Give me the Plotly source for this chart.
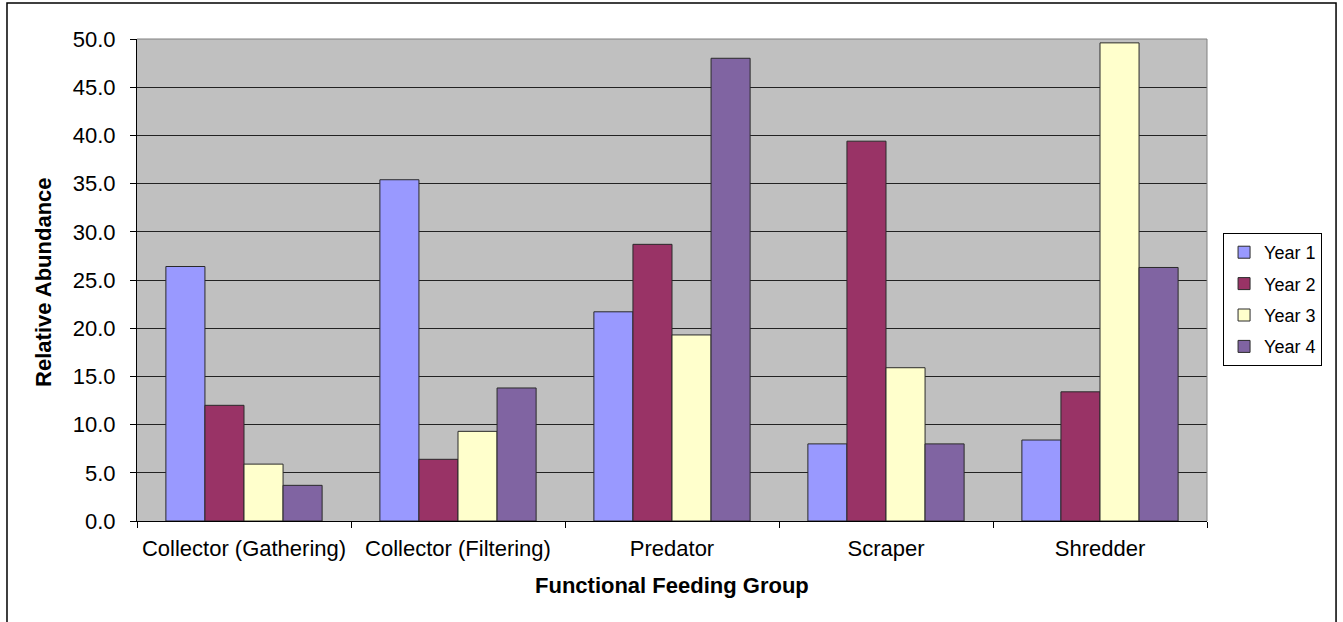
import plotly.graph_objects as go

groups = ["Collector (Gathering)", "Collector (Filtering)", "Predator", "Scraper", "Shredder"]
year1 = [26.4, 35.4, 21.7, 8.0, 8.4]
year2 = [12.0, 6.4, 28.7, 39.4, 13.4]
year3 = [5.9, 9.3, 19.3, 15.9, 49.6]
year4 = [3.7, 13.8, 48.0, 8.0, 26.3]
series_names = ["Year 1", "Year 2", "Year 3", "Year 4"]
series_colors = ["#9999FF", "#993366", "#FFFFCC", "#8064A2"]
y_ticks = [0, 5, 10, 15, 20, 25, 30, 35, 40, 45, 50]

FONT = "Arial, 'Liberation Sans', sans-serif"

fig = go.Figure()
for name, vals, color in zip(series_names, [year1, year2, year3, year4], series_colors):
    fig.add_trace(go.Bar(
        x=groups, y=vals, name=name, legendgroup=name,
        marker=dict(color=color, line=dict(color="#2a2a2a", width=1)),
    ))

fig.update_layout(
    width=1343, height=622,
    margin=dict(l=137, r=136, t=39, b=101),
    paper_bgcolor="white",
    plot_bgcolor="#C0C0C0",
    barmode="group",
    bargap=0.27,
    bargroupgap=0,
    font=dict(family=FONT, color="black"),
    showlegend=True,
    legend=dict(
        x=1.015, y=0.5975, xanchor="left", yanchor="top",
        bgcolor="white", bordercolor="black", borderwidth=1,
        font=dict(family=FONT, size=18, color="black"),
        tracegroupgap=5,
    ),
    xaxis=dict(
        type="category",
        showline=True, linecolor="black", linewidth=1,
        ticks="outside", tickson="boundaries", ticklen=6, tickcolor="black",
        tickfont=dict(family=FONT, size=22, color="black"),
        ticklabelstandoff=8,
        showgrid=False,
    ),
    yaxis=dict(
        range=[0, 50],
        tickvals=y_ticks,
        tickformat=".1f",
        showline=True, linecolor="black", linewidth=1,
        ticks="outside", ticklen=6, tickcolor="black",
        tickfont=dict(family=FONT, size=22, color="black"),
        ticklabelstandoff=10,
        showgrid=True, gridcolor="#222222", gridwidth=1,
        zeroline=False,
    ),
    annotations=[
        dict(text="<b>Functional Feeding Group</b>", xref="paper", yref="paper",
             x=0.5, y=-0.1328, xanchor="center", yanchor="middle", showarrow=False,
             font=dict(family=FONT, size=22, color="black")),
        dict(text="<b>Relative Abundance</b>", xref="paper", yref="paper",
             x=-0.0869, y=0.494, xanchor="center", yanchor="middle", showarrow=False,
             textangle=-90, font=dict(family=FONT, size=22, color="black")),
    ],
    shapes=[
        # gray border on the top and right of the plot area
        dict(type="line", xref="paper", yref="paper", x0=0, x1=1, y0=1, y1=1,
             line=dict(color="#808080", width=1), layer="above"),
        dict(type="line", xref="paper", yref="paper", x0=1, x1=1, y0=0, y1=1,
             line=dict(color="#808080", width=1), layer="above"),
        # outer chart frame
        dict(type="rect", xref="paper", yref="paper", x0=-0.1215, x1=1.1206,
             y0=-0.24, y1=1.0747, line=dict(color="black", width=1.5), layer="above"),
    ],
)

fig.write_html("out.html")
